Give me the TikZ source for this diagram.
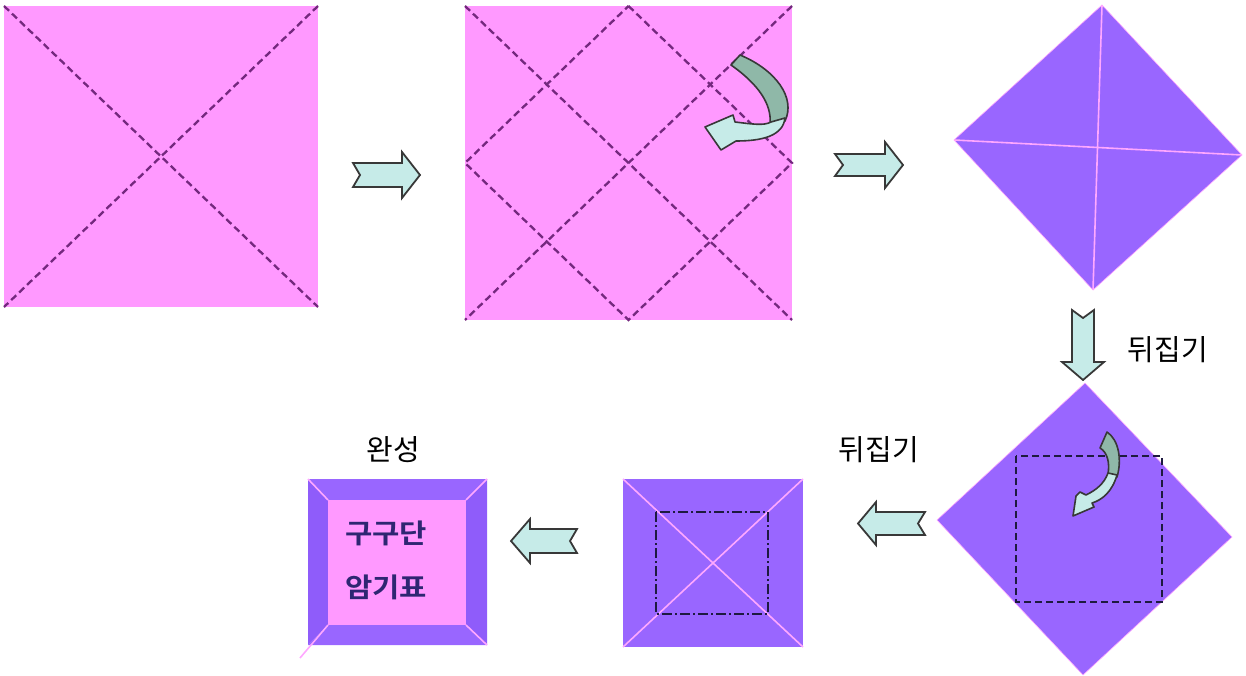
\documentclass[tikz,border=0pt]{standalone}
\usepackage{fontspec}
\newfontfamily\kr{Noto Sans CJK KR}
\newfontfamily\krb{Noto Sans CJK KR Bold}
\begin{document}
\begin{tikzpicture}[x=1pt,y=-1pt,
  pinkpaper/.style={fill=paperpink,draw=none},
  purplepaper/.style={fill=paperpurple,draw=creasecol,line width=0.6pt},
  fold/.style={draw=foldcol,line width=2.3pt,dash pattern=on 7pt off 4pt},
  crease/.style={draw=creasecol,line width=1.6pt},
  blockarrow/.style={fill=arrowfill,draw=arrowline,line width=1.8pt,line join=miter},
  twistdark/.style={fill=twistdk,draw=arrowline,line width=1.6pt,line join=round},
  twistlight/.style={fill=arrowfill,draw=arrowline,line width=1.6pt,line join=round},
  label/.style={font=\kr\fontsize{29}{29}\selectfont,inner sep=0pt,text=black},
  boardtext/.style={font=\krb\fontsize{27}{27}\selectfont,inner sep=0pt,text=boardcol,xscale=1.1}]
\definecolor{paperpink}{HTML}{FF99FF}
\definecolor{paperpurple}{HTML}{9966FF}
\definecolor{framepurple}{HTML}{8F5CFA}
\definecolor{foldcol}{HTML}{74287E}
\definecolor{creasecol}{HTML}{FFA8FF}
\definecolor{arrowfill}{HTML}{C6EBE8}
\definecolor{twistdk}{HTML}{8FB8A8}
\definecolor{arrowline}{HTML}{383838}
\definecolor{boardcol}{HTML}{2E2672}
\definecolor{boxline}{HTML}{1E1A40}
\useasboundingbox (0,0) rectangle (1246,676);

% ---- step 1: square with diagonals
\coordinate (s1a) at (4,6); \coordinate (s1b) at (318,6);
\coordinate (s1c) at (318,307); \coordinate (s1d) at (4,307);
\fill[pinkpaper] (s1a) -- (s1b) -- (s1c) -- (s1d) -- cycle;
\draw[fold] (s1a) -- (s1c);
\draw[fold] (s1b) -- (s1d);

% ---- arrow 1
\draw[blockarrow] (353,163) -- (402,163) -- (402,152) -- (420,175) -- (402,198) -- (402,187) -- (353,187) -- (360,175) -- cycle;

% ---- step 2: square with diagonals and diamond
\coordinate (s2a) at (465,6); \coordinate (s2b) at (792,6);
\coordinate (s2c) at (792,320); \coordinate (s2d) at (465,320);
\coordinate (s2t) at (628.5,6); \coordinate (s2r) at (792,163);
\coordinate (s2bm) at (628.5,320); \coordinate (s2l) at (465,163);
\fill[pinkpaper] (s2a) -- (s2b) -- (s2c) -- (s2d) -- cycle;
\draw[fold] (s2a) -- (s2c);
\draw[fold] (s2b) -- (s2d);
\draw[fold] (s2t) -- (s2r) -- (s2bm) -- (s2l) -- cycle;
% twisted arrow
\draw[twistdark] (731,65) -- (740,55) .. controls (776,70) and (796,98) .. (785,121)
  -- (770,124) .. controls (772,104) and (758,84) .. cycle;
\draw[twistlight] (785,118) .. controls (783,136) and (762,141) .. (736,141)
  -- (721,150) -- (705,127) -- (733,115) -- (735,122) .. controls (752,124) and (764,126) .. (771,122) -- cycle;

% ---- arrow 2
\draw[blockarrow] (835,154) -- (885,154) -- (885,142) -- (903,165) -- (885,188) -- (885,176) -- (835,176) -- (843,165) -- cycle;

% ---- step 3: purple diamond
\coordinate (d1t) at (1102,5); \coordinate (d1r) at (1242,155);
\coordinate (d1b) at (1093,290); \coordinate (d1l) at (954,140);
\draw[purplepaper] (d1t) -- (d1r) -- (d1b) -- (d1l) -- cycle;
\draw[crease] (d1t) -- (d1b);
\draw[crease] (d1l) -- (d1r);

% ---- arrow 3 (down)
\draw[blockarrow] (1072,310) -- (1083,318) -- (1094,310) -- (1094,362) -- (1104,362) -- (1083,380) -- (1062,362) -- (1072,362) -- cycle;
\node[label] (flip1) at (1168,350) {뒤집기};

% ---- step 4: purple diamond with dashed square
\coordinate (d2t) at (1085,383); \coordinate (d2r) at (1232,537);
\coordinate (d2b) at (1083,675); \coordinate (d2l) at (937,520);
\draw[purplepaper] (d2t) -- (d2r) -- (d2b) -- (d2l) -- cycle;
\draw[draw=boxline,line width=1.8pt,dash pattern=on 7pt off 4pt] (1016,456) rectangle (1162,602);
\draw[twistdark] (1100,448) -- (1107,432) .. controls (1119,440) and (1122,460) .. (1117,477)
  -- (1108,474) .. controls (1110,462) and (1107,452) .. cycle;
\draw[twistlight] (1117,475) .. controls (1112,492) and (1102,500) .. (1092,503)
  -- (1094,507) -- (1073,516) -- (1076,496) -- (1080,492) -- (1086,495) .. controls (1096,490) and (1104,484) .. (1108,473) -- cycle;

% ---- arrow 4 (left)
\draw[blockarrow] (925,512) -- (918,523.5) -- (925,535) -- (876,535) -- (876,545) -- (858,523.5) -- (876,502) -- (876,512) -- cycle;
\node[label] (flip2) at (879,450) {뒤집기};

% ---- step 5: purple square with dash-dot square
\coordinate (s5a) at (623,479); \coordinate (s5b) at (803,479);
\coordinate (s5c) at (803,647); \coordinate (s5d) at (623,647);
\fill[paperpurple] (s5a) -- (s5b) -- (s5c) -- (s5d) -- cycle;
\draw[crease] (s5a) -- (s5c);
\draw[crease] (s5b) -- (s5d);
\draw[draw=boxline,line width=1.8pt,dash pattern=on 10pt off 3pt on 2pt off 3pt] (656,512) rectangle (768,614);

% ---- arrow 5 (left)
\draw[blockarrow] (577,529) -- (570,541) -- (577,553) -- (530,553) -- (530,563) -- (511,541) -- (530,519) -- (530,529) -- cycle;

% ---- step 6: finished board
\coordinate (f1) at (308,479); \coordinate (f2) at (487,479);
\coordinate (f3) at (487,645); \coordinate (f4) at (308,645);
\coordinate (g1) at (328,500); \coordinate (g2) at (466,500);
\coordinate (g3) at (466,625); \coordinate (g4) at (328,625);
\fill[paperpurple] (f1) -- (f2) -- (g2) -- (g1) -- cycle;
\fill[paperpurple] (f4) -- (f3) -- (g3) -- (g4) -- cycle;
\fill[framepurple] (f1) -- (g1) -- (g4) -- (f4) -- cycle;
\fill[framepurple] (f2) -- (g2) -- (g3) -- (f3) -- cycle;
\fill[paperpink] (g1) rectangle (g3);
\draw[crease] (f1) -- (g1);
\draw[crease] (f2) -- (g2);
\draw[crease] (f3) -- (g3);
\coordinate (ftail) at (300,658);
\draw[crease] (ftail) -- (g4);
\node[boardtext] (t1) at (386,533) {구구단};
\node[boardtext] (t2) at (386,587) {암기표};
\node[label] (done) at (393,450) {완성};
\end{tikzpicture}
\end{document}
